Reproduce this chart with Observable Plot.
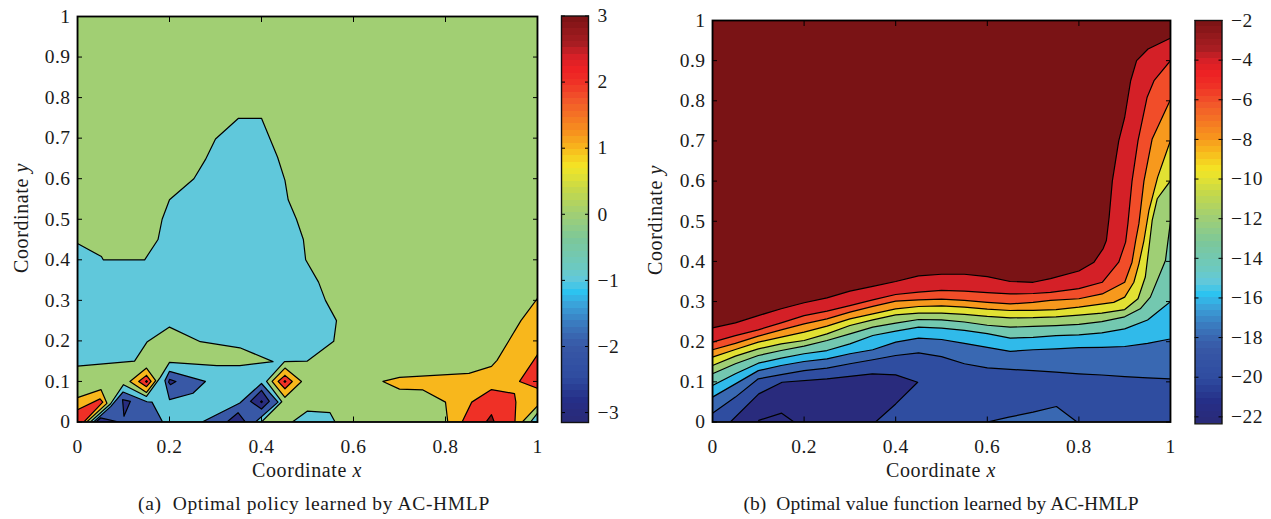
<!DOCTYPE html>
<html><head><meta charset="utf-8">
<style>
html,body{margin:0;padding:0;background:#fff}
#page{position:relative;width:1271px;height:519px;overflow:hidden;font-family:"Liberation Serif",serif;color:#1a1a1a}
#page svg{position:absolute;background:transparent}
.t{position:absolute;white-space:pre;transform:translateX(-50%);line-height:1}
.yl{position:absolute;white-space:pre;transform:translate(-50%,-50%) rotate(-90deg);line-height:1}
</style>
<script src="https://cdn.jsdelivr.net/npm/d3@7"></script>
<script src="https://cdn.jsdelivr.net/npm/@observablehq/plot@0.6"></script>
</head><body><div id="page"></div>
<script>
// Shared colormap
const mapStops = [0.002,0.055,0.112,0.187,0.235,0.292,0.321,0.349,0.382,0.448,0.512,0.571,0.628,0.675,0.71,0.792,0.837,0.866,0.902,0.93,1];
const mapColors = ["#2a2a78","#252f88","#2f4ca0","#3858a6","#3a75bb","#3aa5dc","#2cc4f0","#60c8dc","#6cc9c0","#7cc79a","#a1cf73","#c5d84a","#f3e625","#f8b71c","#f7941d","#f2572a","#ef3026","#ee2224","#d42027","#a81d22","#7a1315"];
const bandIndex = d3.range(64);

// Panel (a) ticks and levels
const xTicks = [0,0.2,0.4,0.6,0.8,1];
const yTicks = [0,0.1,0.2,0.3,0.4,0.5,0.6,0.7,0.8,0.9,1];
const barATicks = [-3,-2,-1,0,1,2,3];
const barBTicks = [-22,-20,-18,-16,-14,-12,-10,-8,-6,-4,-2];
const barADomain = [-3.15,3];
const barBDomain = [-22.35,-2];

// Panel (a) filled contour outlines: [x, y]
const aGreen = [[0,0],[1,0],[1,1],[0,1]];
const aCyanMain = [[0,.44],[.052,.408],[.056,.40],[.146,.40],[.175,.45],[.184,.50],[.2,.548],[.253,.60],[.278,.647],[.30,.698],[.35,.749],[.40,.749],[.435,.653],[.451,.596],[.458,.548],[.476,.50],[.491,.45],[.496,.40],[.524,.345],[.539,.30],[.563,.25],[.557,.199],[.499,.15],[.45,.149],[.411,.10],[.444,.05],[.40,0],[.028,0],[.072,.045],[.10,.092],[.15,.063],[.18,.11],[.2,.147],[.303,.139],[.353,.139],[.425,.149],[.353,.183],[.267,.198],[.2,.234],[.151,.197],[.124,.15],[0,.138]];
const aCyanBump = [[.467,0],[.50,.027],[.549,.023],[.56,0]];
const aCyanCorner = [[.985,0],[1,.022],[1,0]];
const aBlue1 = [[.035,0],[.072,.038],[.099,.074],[.151,.05],[.162,.049],[.185,0]];
const aNavy1 = [[.04,0],[.05,.01],[.09,0]];
const aNavy2 = [[.098,.055],[.115,.051],[.101,.014]];
const aBlue2 = [[.2,.125],[.278,.10],[.251,.071],[.2,.055],[.19,.102]];
const aNavy3 = [[.2,.105],[.214,.10],[.202,.092],[.198,.098]];
const aBlue3 = [[.271,0],[.353,.047],[.40,.095],[.436,.049],[.387,0]];
const aNavy4 = [[.40,.078],[.417,.051],[.40,.032],[.376,.051]];
const aNavy5 = [[.40,.052],[.402,.05],[.40,.048],[.398,.05]];
const aNavy6 = [[.325,0],[.349,.023],[.365,0]];
const aOrangeLeft = [[0,.06],[.051,.08],[.064,.046],[.02,0],[0,0]];
const aRedLeft = [[0,.03],[.049,.057],[.055,.049],[.014,0],[0,0]];
const aOrangeD1 = [[.15,.133],[.17,.102],[.15,.073],[.114,.10]];
const aRedD1 = [[.15,.115],[.16,.10],[.15,.087],[.133,.10]];
const aDarkD1 = [[.15,.102],[.152,.10],[.15,.098],[.148,.10]];
const aOrangeD2 = [[.451,.133],[.487,.10],[.451,.061],[.423,.10]];
const aRedD2 = [[.451,.115],[.467,.10],[.451,.082],[.436,.10]];
const aDarkD2 = [[.451,.102],[.453,.10],[.451,.098],[.449,.10]];
const aOrangeRight = [[.664,.10],[.70,.11],[.851,.12],[.90,.137],[.912,.152],[.964,.25],[1,.305],[1,.04],[.967,0],[.805,0],[.80,.049],[.751,.079],[.70,.081]];
const aRedRight1 = [[.836,0],[.857,.049],[.90,.08],[.95,.07],[.953,.049],[.951,0]];
const aDarkRight = [[.888,0],[.90,.018],[.906,0]];
const aRedRight2 = [[1,.166],[.961,.10],[1,.083]];

const panelA = [[0,aGreen],[-1,aCyanMain],[-1,aCyanBump],[-1,aCyanCorner],[-2,aBlue1],[-3,aNavy1],[-3,aNavy2],[-2,aBlue2],[-3,aNavy3],[-2,aBlue3],[-3,aNavy4],[-3,aNavy5],[-3,aNavy6],[1,aOrangeLeft],[2,aRedLeft],[1,aOrangeD1],[2,aRedD1],[3,aDarkD1],[1,aOrangeD2],[2,aRedD2],[3,aDarkD2],[1,aOrangeRight],[2,aRedRight1],[3,aDarkRight],[2,aRedRight2]];

// Panel (b) contour lines: [x, y]
const bBase = [[0,0],[1,0],[1,1],[0,1]];
const bBlob = [[.039,0],[.101,.07],[.152,.099],[.25,.1075],[.349,.12],[.40,.1175],[.448,.099],[.40,.045],[.356,0]];
const bBlobInner = [[.101,0],[.101,.004],[.151,.022],[.178,0]];
const bBump = [[.6,0],[.647,.012],[.7,.0245],[.751,.0386],[.796,0]];
const c9 = [[0,.022],[.05,.062],[.1,.1075],[.15,.118],[.2,.128],[.25,.134],[.3,.145],[.35,.155],[.4,.1656],[.45,.1722],[.5,.163],[.55,.145],[.6,.135],[.65,.131],[.7,.128],[.75,.124],[.8,.12],[.85,.117],[.9,.113],[.95,.11],[1,.1075]];
const c8 = [[0,.062],[.05,.095],[.1,.128],[.15,.1407],[.2,.1507],[.25,.1573],[.3,.17],[.35,.18],[.4,.199],[.45,.209],[.5,.2055],[.55,.196],[.6,.186],[.65,.176],[.7,.18],[.75,.182],[.8,.185],[.85,.186],[.9,.188],[.95,.196],[1,.207]];
const c7 = [[0,.091],[.05,.12],[.1,.1465],[.15,.159],[.2,.17],[.25,.178],[.3,.1947],[.35,.2154],[.4,.2262],[.45,.2362],[.5,.2337],[.55,.228],[.6,.22],[.65,.209],[.7,.211],[.75,.215],[.8,.217],[.85,.222],[.9,.232],[.95,.254],[1,.30]];
const c6 = [[0,.12],[.05,.145],[.1,.1656],[.15,.178],[.2,.1889],[.25,.203],[.3,.2196],[.35,.2362],[.4,.2461],[.45,.2553],[.5,.2544],[.55,.249],[.6,.241],[.65,.2362],[.7,.238],[.75,.24],[.8,.243],[.85,.25],[.9,.262],[.934,.282],[.956,.311],[.989,.402],[1,.50]];
const c5 = [[0,.1407],[.05,.164],[.1,.182],[.15,.1947],[.2,.203],[.25,.2196],[.3,.2403],[.35,.2544],[.4,.2669],[.45,.271],[.5,.271],[.55,.268],[.6,.263],[.65,.2594],[.7,.26],[.75,.262],[.8,.266],[.85,.271],[.9,.28],[.929,.307],[.945,.361],[.954,.444],[.96,.502],[.971,.556],[1,.601]];
const c4 = [[0,.1615],[.05,.1805],[.1,.199],[.15,.2113],[.2,.2237],[.25,.2387],[.3,.257],[.35,.2694],[.4,.2818],[.45,.2877],[.5,.289],[.55,.286],[.6,.281],[.65,.2777],[.7,.278],[.75,.28],[.8,.286],[.876,.298],[.9,.311],[.92,.348],[.931,.394],[.942,.452],[.953,.527],[.972,.61],[1,.701]];
const c3 = [[0,.18],[.05,.196],[.1,.214],[.15,.2295],[.2,.2445],[.25,.257],[.3,.2735],[.35,.288],[.4,.301],[.45,.304],[.5,.306],[.55,.303],[.6,.298],[.65,.294],[.7,.298],[.738,.303],[.8,.307],[.851,.319],[.90,.348],[.916,.398],[.924,.452],[.931,.494],[.942,.60],[.96,.705],[1,.803]];
const c2 = [[0,.199],[.05,.215],[.1,.2295],[.15,.247],[.2,.265],[.25,.276],[.3,.29],[.35,.304],[.4,.3175],[.45,.3235],[.5,.328],[.55,.326],[.6,.322],[.65,.319],[.7,.32],[.738,.323],[.8,.332],[.851,.348],[.887,.398],[.902,.448],[.907,.494],[.916,.60],[.929,.70],[.949,.809],[.964,.85],[1,.90]];
const c1 = [[0,.2345],[.05,.247],[.1,.265],[.15,.282],[.2,.297],[.25,.309],[.3,.326],[.35,.338],[.4,.35],[.45,.364],[.5,.368],[.55,.368],[.6,.362],[.65,.35],[.7,.348],[.738,.357],[.8,.376],[.833,.398],[.853,.432],[.86,.452],[.866,.51],[.873,.60],[.887,.70],[.90,.759],[.913,.85],[.926,.90],[.951,.929],[1,.956]];

const upTo = line => [...line,[1,1],[0,1]];
const panelB = [[-20,bBase],[-22,bBlob],[-22,bBlobInner],[-18,bBump],[-18,upTo(c9)],[-16,upTo(c8)],[-14,upTo(c7)],[-12,upTo(c6)],[-10,upTo(c5)],[-8,upTo(c4)],[-6,upTo(c3)],[-4,upTo(c2)],[-2,upTo(c1)]];

const page = document.getElementById("page");
const FONT = {fontFamily:"'Liberation Serif',serif",fontSize:"19.5px",letterSpacing:"0.5px",color:"#1a1a1a",overflow:"visible"};
const label = d => String(d).replace("-","\u2212");
const colorScale = ([lo,hi]) => ({type:"linear",domain:mapStops.map(t => lo + (hi - lo) * t),range:mapColors,clamp:true});
const rowsOf = panel => panel.flatMap(([v,ring],id) => [...ring,ring[0]].map(([x,y]) => ({x,y,id,v})));

function place(svg,left,top){svg.style.left=left+"px";svg.style.top=top+"px";page.appendChild(svg);}

function panel(rows,dom,box){
  const [l,t,r,b,svgL,svgW,svgH] = box;
  const svg = Plot.plot({
    width:svgW,height:svgH,marginLeft:l-svgL,marginRight:svgL+svgW-r,marginTop:t,marginBottom:svgH-b,
    style:FONT,
    x:{domain:[0,1]},y:{domain:[0,1]},color:colorScale(dom),
    marks:[
      Plot.line(rows,{x:"x",y:"y",z:"id",fill:"v",stroke:"black",strokeWidth:1.2,clip:true}),
      Plot.axisX(xTicks,{anchor:"bottom",tickSize:-5,tickPadding:22,tickFormat:label,label:null,stroke:"black"}),
      Plot.axisX(xTicks,{anchor:"top",tickSize:-5,tickFormat:()=>"",label:null,stroke:"black"}),
      Plot.axisY(yTicks,{anchor:"left",tickSize:-5,tickPadding:12,tickFormat:label,label:null,stroke:"black"}),
      Plot.axisY(yTicks,{anchor:"right",tickSize:-5,tickFormat:()=>"",label:null,stroke:"black"}),
      Plot.frame({stroke:"black",strokeWidth:1.8})
    ]
  });
  place(svg,svgL,0);
}

function colorbar(dom,ticks,box){
  const [l,t,r,b,svgL,svgW,svgH] = box;
  const [lo,hi] = dom;
  const bands = bandIndex.map(i => ({y1:lo+(hi-lo)*i/64,y2:lo+(hi-lo)*(i+1)/64,v:lo+(hi-lo)*(i+.5)/64}));
  const svg = Plot.plot({
    width:svgW,height:svgH,marginLeft:l-svgL,marginRight:svgL+svgW-r,marginTop:t,marginBottom:svgH-b,
    style:FONT,
    x:{domain:[0,1],axis:null},y:{domain:dom},color:colorScale(dom),
    marks:[
      Plot.rectY(bands,{x1:0,x2:1,y1:"y1",y2:"y2",fill:"v",shapeRendering:"crispEdges"}),
      Plot.axisY(ticks,{anchor:"left",tickSize:-4,tickFormat:()=>"",label:null,stroke:"black"}),
      Plot.axisY(ticks,{anchor:"right",tickSize:-4,tickPadding:13,tickFormat:label,label:null,stroke:"black"}),
      Plot.frame({stroke:"#111",strokeWidth:1.4})
    ]
  });
  place(svg,svgL,0);
}

panel(rowsOf(panelA),barADomain,[77,16,537,421.5,0,556,460]);
colorbar(barADomain,barATicks,[561,15.5,588,422,550,75,440]);
panel(rowsOf(panelB),barBDomain,[712,20,1170,421.5,640,550,460]);
colorbar(barBDomain,barBTicks,[1194.5,20,1221.5,423.3,1185,85,440]);

const html = (cls,x,y,inner,size,ls) => {
  const d = document.createElement("div");
  d.className = cls; d.style.left = x+"px"; d.style.top = y+"px"; d.style.fontSize = size+"px"; d.style.letterSpacing = ls+"px"; d.innerHTML = inner;
  page.appendChild(d);
};
html("t",307,460,"Coordinate <i>x</i>",20,.6);
html("t",941,460,"Coordinate <i>x</i>",20,.6);
html("yl",21,218,"Coordinate <i>y</i>",20,.6);
html("yl",655,220,"Coordinate <i>y</i>",20,.6);
html("t",314,494,"(a)  Optimal policy learned by AC-HMLP",19.5,.65);
html("t",941,494,"(b)  Optimal value function learned by AC-HMLP",19.5,.08);
</script></body></html>
